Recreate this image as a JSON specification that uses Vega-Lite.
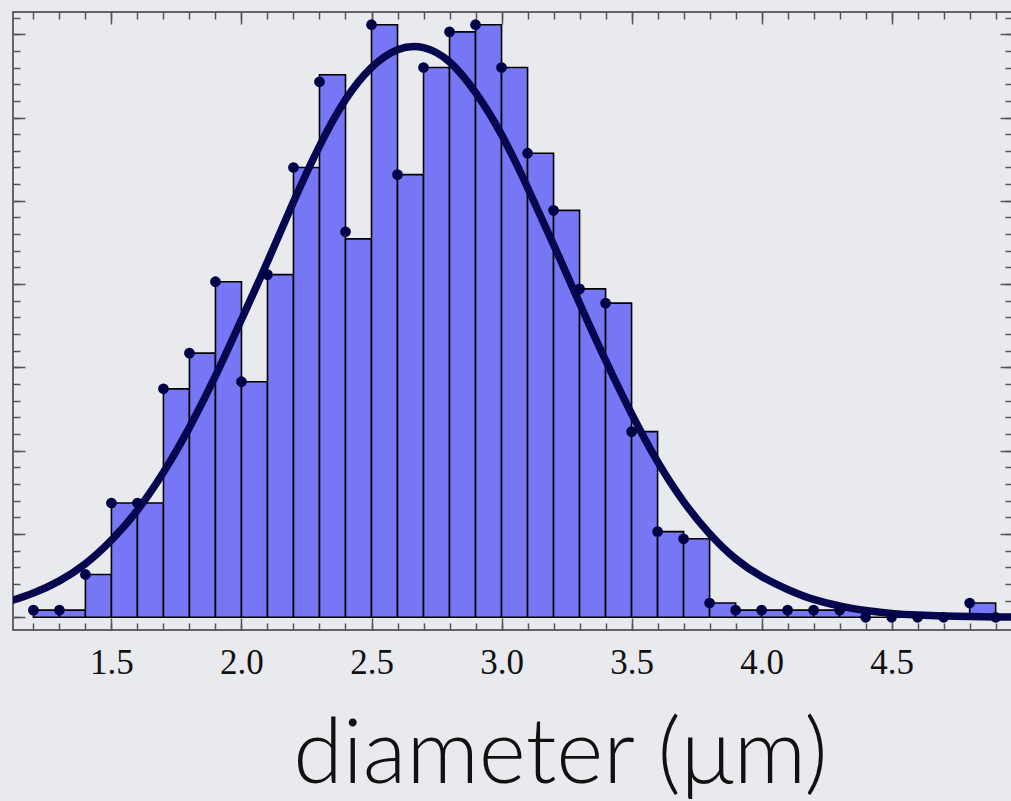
{
  "$schema": "https://vega.github.io/schema/vega-lite/v6.json",
  "width": 999,
  "height": 618,
  "autosize": {"type": "none"},
  "padding": {"left": 13, "top": 12, "right": 0, "bottom": 171},
  "background": "#e9eaed",
  "config": {
    "view": {"stroke": "#3a3a3a", "strokeWidth": 1.5, "fill": "#e9eaed"},
    "axis": {"grid": false, "domain": false, "labels": false, "ticks": true, "tickColor": "#555555", "tickWidth": 1.5, "title": null}
  },
  "datasets": {
    "bins": [
      {"bin_start": 1.2, "bin_end": 1.3, "count": 1, "dot_count": 1},
      {"bin_start": 1.3, "bin_end": 1.4, "count": 1, "dot_count": 1},
      {"bin_start": 1.4, "bin_end": 1.5, "count": 6, "dot_count": 6},
      {"bin_start": 1.5, "bin_end": 1.6, "count": 16, "dot_count": 16},
      {"bin_start": 1.6, "bin_end": 1.7, "count": 16, "dot_count": 16},
      {"bin_start": 1.7, "bin_end": 1.8, "count": 32, "dot_count": 32},
      {"bin_start": 1.8, "bin_end": 1.9, "count": 37, "dot_count": 37},
      {"bin_start": 1.9, "bin_end": 2.0, "count": 47, "dot_count": 47},
      {"bin_start": 2.0, "bin_end": 2.1, "count": 33, "dot_count": 33},
      {"bin_start": 2.1, "bin_end": 2.2, "count": 48, "dot_count": 48},
      {"bin_start": 2.2, "bin_end": 2.3, "count": 63, "dot_count": 63},
      {"bin_start": 2.3, "bin_end": 2.4, "count": 76, "dot_count": 75},
      {"bin_start": 2.4, "bin_end": 2.5, "count": 53, "dot_count": 54},
      {"bin_start": 2.5, "bin_end": 2.6, "count": 83, "dot_count": 83},
      {"bin_start": 2.6, "bin_end": 2.7, "count": 62, "dot_count": 62},
      {"bin_start": 2.7, "bin_end": 2.8, "count": 77, "dot_count": 77},
      {"bin_start": 2.8, "bin_end": 2.9, "count": 82, "dot_count": 82},
      {"bin_start": 2.9, "bin_end": 3.0, "count": 83, "dot_count": 83},
      {"bin_start": 3.0, "bin_end": 3.1, "count": 77, "dot_count": 77},
      {"bin_start": 3.1, "bin_end": 3.2, "count": 65, "dot_count": 65},
      {"bin_start": 3.2, "bin_end": 3.3, "count": 57, "dot_count": 57},
      {"bin_start": 3.3, "bin_end": 3.4, "count": 46, "dot_count": 46},
      {"bin_start": 3.4, "bin_end": 3.5, "count": 44, "dot_count": 44},
      {"bin_start": 3.5, "bin_end": 3.6, "count": 26, "dot_count": 26},
      {"bin_start": 3.6, "bin_end": 3.7, "count": 12, "dot_count": 12},
      {"bin_start": 3.7, "bin_end": 3.8, "count": 11, "dot_count": 11},
      {"bin_start": 3.8, "bin_end": 3.9, "count": 2, "dot_count": 2},
      {"bin_start": 3.9, "bin_end": 4.0, "count": 1, "dot_count": 1},
      {"bin_start": 4.0, "bin_end": 4.1, "count": 1, "dot_count": 1},
      {"bin_start": 4.1, "bin_end": 4.2, "count": 1, "dot_count": 1},
      {"bin_start": 4.2, "bin_end": 4.3, "count": 1, "dot_count": 1},
      {"bin_start": 4.3, "bin_end": 4.4, "count": 1, "dot_count": 1},
      {"bin_start": 4.4, "bin_end": 4.5, "count": 0, "dot_count": 0},
      {"bin_start": 4.5, "bin_end": 4.6, "count": 0, "dot_count": 0},
      {"bin_start": 4.6, "bin_end": 4.7, "count": 0, "dot_count": 0},
      {"bin_start": 4.7, "bin_end": 4.8, "count": 0, "dot_count": 0},
      {"bin_start": 4.8, "bin_end": 4.9, "count": 2, "dot_count": 2},
      {"bin_start": 4.9, "bin_end": 5.0, "count": 0, "dot_count": 0}
    ],
    "fit": [
      {"d": 1.1, "fit": 2.15}, {"d": 1.2, "fit": 3.4}, {"d": 1.3, "fit": 5.1}, {"d": 1.4, "fit": 7.5},
      {"d": 1.5, "fit": 10.8}, {"d": 1.6, "fit": 15.0}, {"d": 1.7, "fit": 20.3}, {"d": 1.8, "fit": 26.6},
      {"d": 1.9, "fit": 33.8}, {"d": 2.0, "fit": 41.7}, {"d": 2.1, "fit": 49.8}, {"d": 2.2, "fit": 58.2},
      {"d": 2.3, "fit": 66.0}, {"d": 2.4, "fit": 72.5}, {"d": 2.5, "fit": 77.0}, {"d": 2.6, "fit": 79.5},
      {"d": 2.7, "fit": 79.8}, {"d": 2.8, "fit": 77.8}, {"d": 2.9, "fit": 73.5}, {"d": 3.0, "fit": 67.6},
      {"d": 3.1, "fit": 60.2}, {"d": 3.2, "fit": 52.2}, {"d": 3.3, "fit": 44.0}, {"d": 3.4, "fit": 36.0},
      {"d": 3.5, "fit": 28.5}, {"d": 3.6, "fit": 21.8}, {"d": 3.7, "fit": 16.2}, {"d": 3.8, "fit": 11.7},
      {"d": 3.9, "fit": 8.2}, {"d": 4.0, "fit": 5.7}, {"d": 4.1, "fit": 3.9}, {"d": 4.2, "fit": 2.5},
      {"d": 4.3, "fit": 1.6}, {"d": 4.4, "fit": 0.95}, {"d": 4.5, "fit": 0.55}, {"d": 4.6, "fit": 0.32},
      {"d": 4.7, "fit": 0.18}, {"d": 4.8, "fit": 0.1}, {"d": 4.9, "fit": 0.05}, {"d": 5.0, "fit": 0.03}
    ]
  },
  "layer": [
    {
      "data": {"name": "bins"},
      "mark": {"type": "bar", "fill": "#7777f5", "stroke": "#000000", "strokeWidth": 1.6, "clip": true},
      "encoding": {
        "x": {"field": "bin_start", "type": "quantitative",
          "scale": {"domain": [1.1215, 4.9628], "nice": false, "zero": false},
          "axis": {"orient": "bottom", "values": [1.5, 2, 2.5, 3, 3.5, 4, 4.5], "format": ".1f", "ticks": false, "labels": true,
            "labelFont": "Liberation Serif", "labelFontSize": 35, "labelColor": "#111111", "labelPadding": 15,
            "title": "diameter (μm)", "titleFont": "Lato", "titleFontSize": 90, "titleFontWeight": 300, "titleColor": "#111111",
            "titlePadding": 31, "titleX": 547}},
        "x2": {"field": "bin_end"},
        "y": {"field": "count", "type": "quantitative",
          "scale": {"domain": [-1.78, 84.78], "nice": false, "zero": false},
          "axis": {"orient": "left", "values": [0, 11.6667, 23.3333, 35, 46.6667, 58.3333, 70, 81.6667], "tickSize": -12}},
        "y2": {"datum": 0}
      }
    },
    {
      "data": {"name": "fit"},
      "mark": {"type": "line", "color": "#07074f", "strokeWidth": 7.5, "interpolate": "natural", "clip": true},
      "encoding": {
        "x": {"field": "d", "type": "quantitative",
          "scale": {"domain": [1.1215, 4.9628], "nice": false, "zero": false},
          "axis": {"orient": "bottom", "values": [1.5, 2, 2.5, 3, 3.5, 4, 4.5], "tickSize": -12}},
        "y": {"field": "fit", "type": "quantitative",
          "scale": {"domain": [-1.78, 84.78], "nice": false, "zero": false},
          "axis": {"orient": "left", "values": [0, 2.3333, 4.6667, 7, 9.3333, 11.6667, 14, 16.3333, 18.6667, 21, 23.3333, 25.6667, 28, 30.3333, 32.6667, 35, 37.3333, 39.6667, 42, 44.3333, 46.6667, 49, 51.3333, 53.6667, 56, 58.3333, 60.6667, 63, 65.3333, 67.6667, 70, 72.3333, 74.6667, 77, 79.3333, 81.6667, 84], "tickSize": -7}}
      }
    },
    {
      "data": {"name": "bins"},
      "mark": {"type": "circle", "color": "#000046", "opacity": 1, "size": 115, "clip": true},
      "encoding": {
        "x": {"field": "bin_start", "type": "quantitative",
          "scale": {"domain": [1.1215, 4.9628], "nice": false, "zero": false},
          "axis": {"orient": "bottom", "values": [1.2, 1.3, 1.4, 1.5, 1.6, 1.7, 1.8, 1.9, 2.0, 2.1, 2.2, 2.3, 2.4, 2.5, 2.6, 2.7, 2.8, 2.9, 3.0, 3.1, 3.2, 3.3, 3.4, 3.5, 3.6, 3.7, 3.8, 3.9, 4.0, 4.1, 4.2, 4.3, 4.4, 4.5, 4.6, 4.7, 4.8, 4.9], "tickSize": -7}},
        "y": {"field": "dot_count", "type": "quantitative",
          "scale": {"domain": [-1.78, 84.78], "nice": false, "zero": false},
          "axis": {"orient": "right", "values": [0, 11.6667, 23.3333, 35, 46.6667, 58.3333, 70, 81.6667], "tickSize": -12}}
      }
    },
    {
      "data": {"name": "bins"},
      "mark": {"type": "circle", "opacity": 0, "clip": true},
      "encoding": {
        "x": {"field": "bin_start", "type": "quantitative",
          "scale": {"domain": [1.1215, 4.9628], "nice": false, "zero": false},
          "axis": {"orient": "top", "values": [1.5, 2, 2.5, 3, 3.5, 4, 4.5], "tickSize": -12}},
        "y": {"field": "dot_count", "type": "quantitative",
          "scale": {"domain": [-1.78, 84.78], "nice": false, "zero": false},
          "axis": {"orient": "right", "values": [0, 2.3333, 4.6667, 7, 9.3333, 11.6667, 14, 16.3333, 18.6667, 21, 23.3333, 25.6667, 28, 30.3333, 32.6667, 35, 37.3333, 39.6667, 42, 44.3333, 46.6667, 49, 51.3333, 53.6667, 56, 58.3333, 60.6667, 63, 65.3333, 67.6667, 70, 72.3333, 74.6667, 77, 79.3333, 81.6667, 84], "tickSize": -7}}
      }
    },
    {
      "data": {"name": "bins"},
      "mark": {"type": "circle", "opacity": 0, "clip": true},
      "encoding": {
        "x": {"field": "bin_start", "type": "quantitative",
          "scale": {"domain": [1.1215, 4.9628], "nice": false, "zero": false},
          "axis": {"orient": "top", "values": [1.2, 1.3, 1.4, 1.5, 1.6, 1.7, 1.8, 1.9, 2.0, 2.1, 2.2, 2.3, 2.4, 2.5, 2.6, 2.7, 2.8, 2.9, 3.0, 3.1, 3.2, 3.3, 3.4, 3.5, 3.6, 3.7, 3.8, 3.9, 4.0, 4.1, 4.2, 4.3, 4.4, 4.5, 4.6, 4.7, 4.8, 4.9], "tickSize": -7}},
        "y": {"field": "dot_count", "type": "quantitative",
          "scale": {"domain": [-1.78, 84.78], "nice": false, "zero": false},
          "axis": null}
      }
    }
  ],
  "resolve": {"axis": {"x": "independent", "y": "independent"}}
}
